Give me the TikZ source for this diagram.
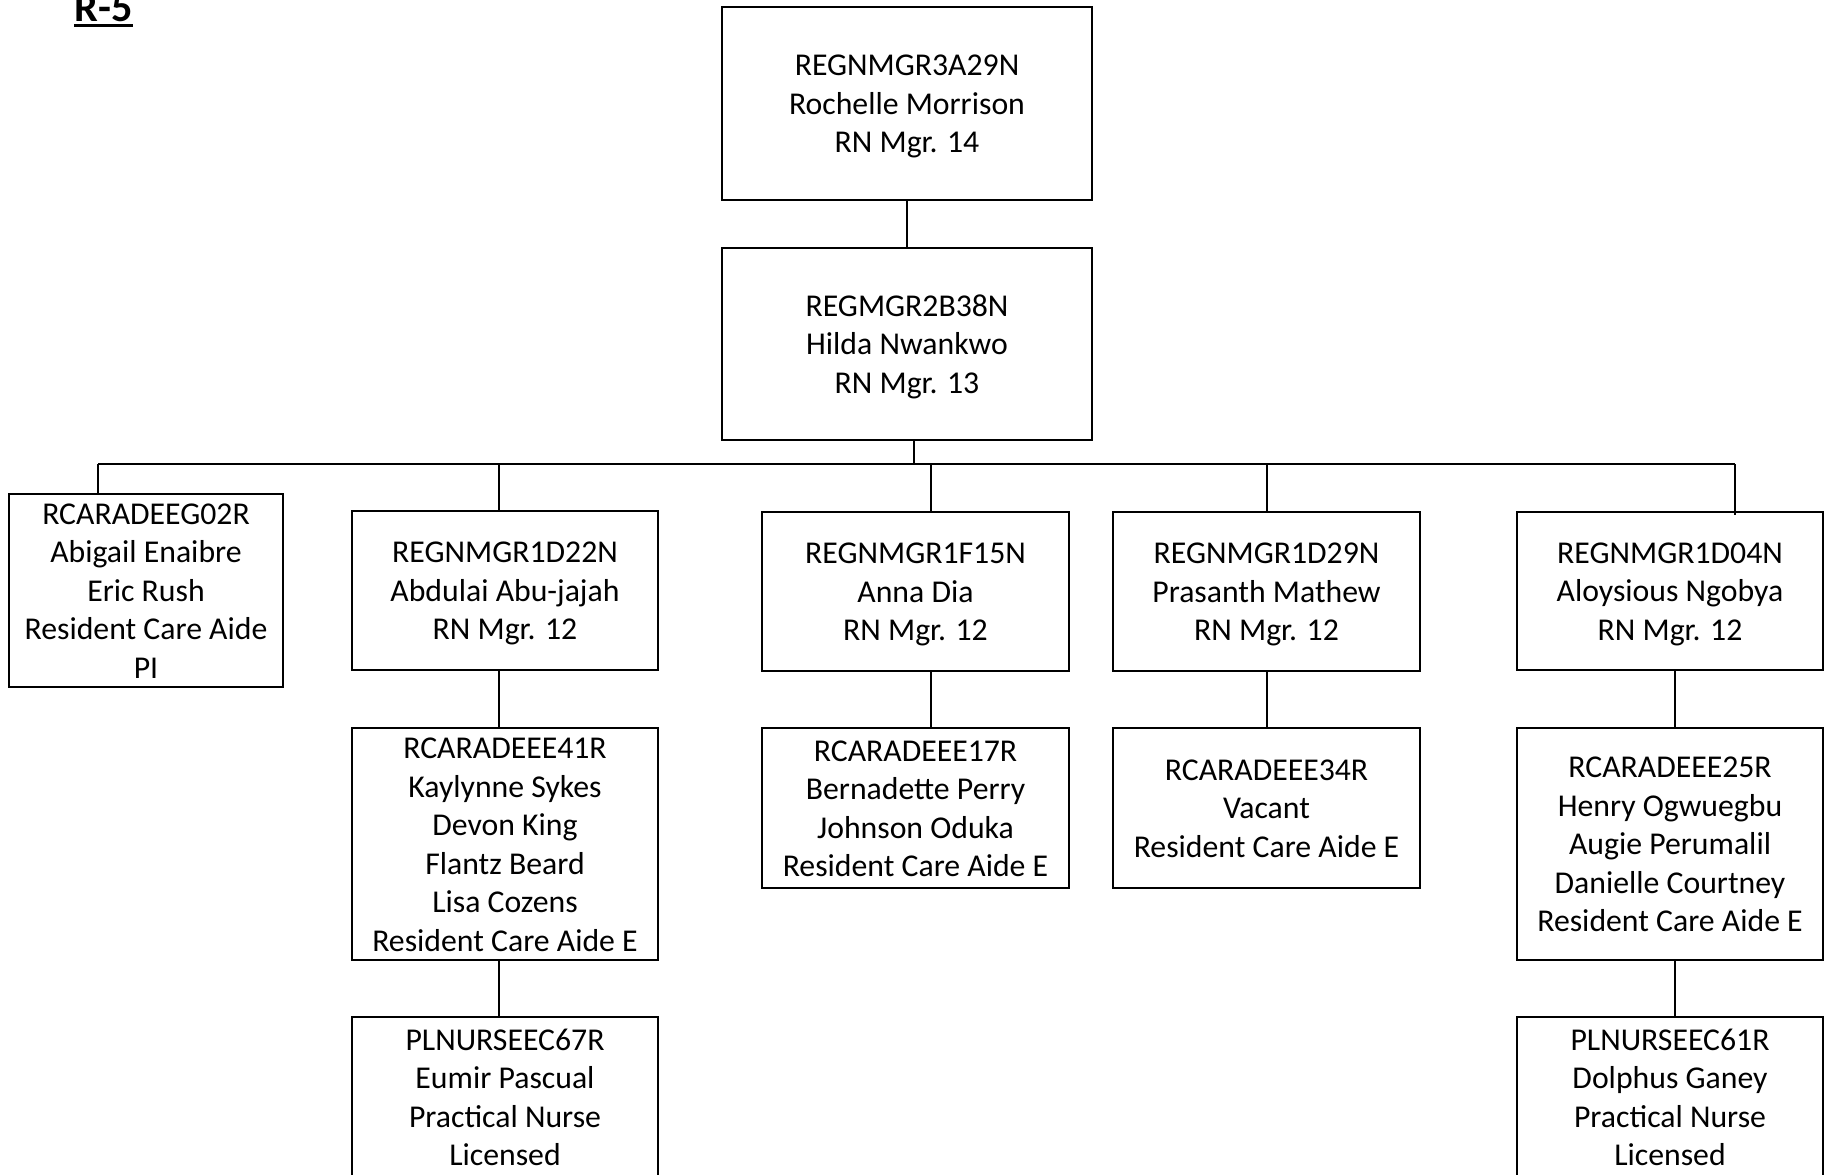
\documentclass[tikz,border=0pt]{standalone}
\usepackage{fontspec}
\setmainfont{Carlito}
\usetikzlibrary{calc}
\newcommand\topstrut{\rule{0pt}{0.952em}}
\tikzset{
  orgbox/.style 2 args={draw, line width=0.8pt, align=center, inner sep=0pt,
    minimum width=#1*0.4pt, minimum height=#2*0.4pt,
    font=\fontsize{12.7pt}{15.4pt}\selectfont,
    execute at end node={\rule[-0.269em]{0pt}{0.269em}}},
  conn/.style={line width=0.8pt}
}
\begin{document}
\begin{tikzpicture}[x=0.4pt,y=-0.4pt]
\useasboundingbox (0,0) rectangle (1824,1174);
\clip (0,0) rectangle (1824,1174);
\fill[white] (0,0) rectangle (1824,1174);

\node[anchor=base west, inner sep=0pt, font=\fontsize{16.9pt}{18pt}\selectfont\bfseries] (title) at (74,21) {R-5};
\draw[line width=1.1pt] ($(title.base west)+(0,4.5)$) -- ($(title.base east)+(0,4.5)$);

\node[orgbox={370}{193}] (top) at (907,103.5) {\topstrut REGNMGR3A29N\\Rochelle Morrison\\RN Mgr. 14};
\node[orgbox={370}{192}] (mid) at (907,344) {\topstrut REGMGR2B38N\\Hilda Nwankwo\\RN Mgr. 13};

\node[orgbox={274}{193}] (g02) at (146,590.5) {\topstrut RCARADEEG02R\\Abigail Enaibre\\Eric Rush\\Resident Care Aide\\PI};
\node[orgbox={306}{159}] (d22) at (505,590.5) {\topstrut REGNMGR1D22N\\Abdulai Abu-jajah\\RN Mgr. 12};
\node[orgbox={307}{159}] (f15) at (915.5,591.5) {\topstrut REGNMGR1F15N\\Anna Dia\\RN Mgr. 12};
\node[orgbox={307}{159}] (d29) at (1266.5,591.5) {\topstrut REGNMGR1D29N\\Prasanth Mathew\\RN Mgr. 12};
\node[orgbox={306}{158}] (d04) at (1670,591) {\topstrut REGNMGR1D04N\\Aloysious Ngobya\\RN Mgr. 12};

\node[orgbox={306}{232}] (e41) at (505,844) {\topstrut RCARADEEE41R\\Kaylynne Sykes\\Devon King\\Flantz Beard\\Lisa Cozens\\Resident Care Aide E};
\node[orgbox={307}{160}] (e17) at (915.5,808) {\topstrut RCARADEEE17R\\Bernadette Perry\\Johnson Oduka\\Resident Care Aide E};
\node[orgbox={307}{160}] (e34) at (1266.5,808) {\topstrut RCARADEEE34R\\Vacant\\Resident Care Aide E};
\node[orgbox={306}{232}] (e25) at (1670,844) {\topstrut RCARADEEE25R\\Henry Ogwuegbu\\Augie Perumalil\\Danielle Courtney\\Resident Care Aide E};

\node[orgbox={306}{160}] (c67) at (505,1097) {\topstrut PLNURSEEC67R\\Eumir Pascual\\Practical Nurse\\Licensed};
\node[orgbox={306}{160}] (c61) at (1670,1097) {\topstrut PLNURSEEC61R\\Dolphus Ganey\\Practical Nurse\\Licensed};

% bus coordinates
\coordinate (cm) at (914,464);
\coordinate (c1) at (98,464);
\coordinate (c2) at (499,464);
\coordinate (c3) at (931,464);
\coordinate (c4) at (1267,464);
\coordinate (c5) at (1735,464);
\coordinate (k1) at (499,0);
\coordinate (k3) at (931,0);
\coordinate (k4) at (1267,0);
\coordinate (k5) at (1675,0);

\draw[conn] (top.south) -- (mid.north);
\draw[conn] (mid.south -| cm) -- (cm);
\draw[conn] (c1) -- (c5);
\draw[conn] (c1) -- (g02.north -| c1);
\draw[conn] (c2) -- (d22.north -| c2);
\draw[conn] (c3) -- (f15.north -| c3);
\draw[conn] (c4) -- (d29.north -| c4);
\draw[conn] (c5) -- ($(d04.north -| c5)+(0,4)$);

\draw[conn] (d22.south -| k1) -- (e41.north -| k1);
\draw[conn] (e41.south -| k1) -- (c67.north -| k1);
\draw[conn] (f15.south -| k3) -- (e17.north -| k3);
\draw[conn] (d29.south -| k4) -- (e34.north -| k4);
\draw[conn] (d04.south -| k5) -- (e25.north -| k5);
\draw[conn] (e25.south -| k5) -- (c61.north -| k5);
\end{tikzpicture}
\end{document}
